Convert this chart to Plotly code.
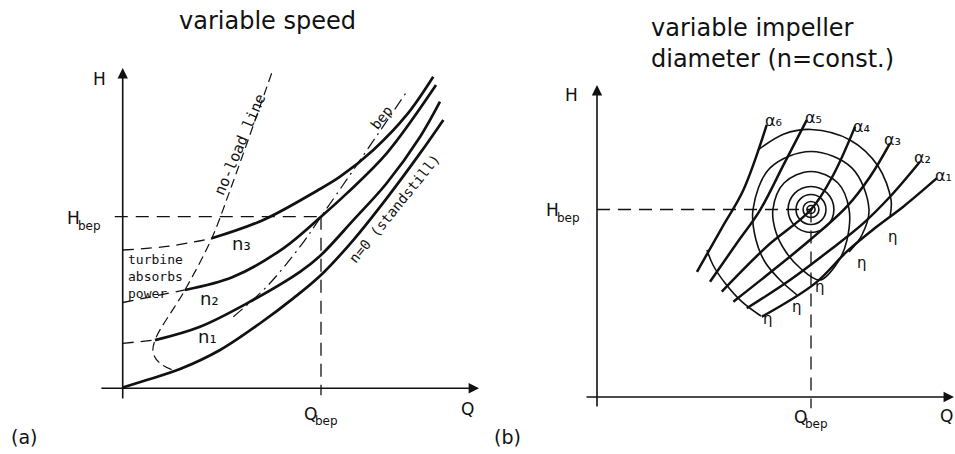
import plotly.graph_objects as go

# ---------------- panel (a): variable speed  (Q/Qbep, H/Hbep) ----------------
n0_Q = [0.0, 0.121, 0.289, 0.491, 0.693, 0.860, 1.0, 1.163, 1.331, 1.499, 1.617]
n0_H = [0.005, 0.048, 0.112, 0.223, 0.379, 0.524, 0.660, 0.864, 1.107, 1.369, 1.564]
n1_Q = [0.163, 0.390, 0.642, 0.894, 0.995, 1.163, 1.331, 1.500, 1.600]
n1_H = [0.281, 0.359, 0.505, 0.679, 0.771, 0.980, 1.195, 1.466, 1.670]
n2_Q = [0.314, 0.558, 0.810, 1.0, 1.130, 1.331, 1.580]
n2_H = [0.573, 0.650, 0.816, 1.0, 1.136, 1.369, 1.767]
n3_Q = [0.449, 0.709, 0.978, 1.096, 1.264, 1.432, 1.566]
n3_H = [0.874, 0.981, 1.150, 1.233, 1.389, 1.593, 1.816]
speed_labels = ["n₁", "n₂", "n₃"]

# dashed continuations of the speed curves back to the H axis
n3_ext_Q = [0.0, 0.238, 0.449]
n3_ext_H = [0.806, 0.829, 0.874]
n2_ext_Q = [0.0, 0.314]
n2_ext_H = [0.500, 0.573]
n1_ext_Q = [0.0, 0.163]
n1_ext_H = [0.262, 0.281]

# no-load line and its closing loop onto the standstill curve
noload_Q = [0.751, 0.541, 0.449, 0.314, 0.163, 0.154, 0.188, 0.255, 0.300]
noload_H = [1.836, 1.153, 0.874, 0.573, 0.281, 0.204, 0.146, 0.107, 0.113]

# best-efficiency-point locus
bep_Q = [0.558, 0.726, 0.894, 1.0, 1.163, 1.432]
bep_H = [0.417, 0.592, 0.825, 1.0, 1.272, 1.728]

# ---------------- panel (b): variable impeller diameter ----------------
alpha_names = ["α₁", "α₂", "α₃", "α₄", "α₅", "α₆"]
alpha_Q = [
    [0.770, 1.019, 1.167, 1.307, 1.431, 1.587],
    [0.700, 0.902, 1.089, 1.244, 1.369, 1.509],
    [0.637, 0.824, 0.995, 1.167, 1.276, 1.369],
    [0.583, 0.793, 1.0, 1.104, 1.206],
    [0.528, 0.653, 0.762, 0.871, 0.980],
    [0.467, 0.583, 0.684, 0.793],
]
alpha_H = [
    [0.428, 0.606, 0.775, 0.908, 1.015, 1.166],
    [0.473, 0.624, 0.784, 0.926, 1.068, 1.255],
    [0.508, 0.677, 0.837, 1.015, 1.175, 1.353],
    [0.562, 0.802, 1.0, 1.184, 1.442],
    [0.615, 0.820, 0.997, 1.237, 1.477],
    [0.667, 0.901, 1.104, 1.451],
]
alpha_label_Q = [1.617, 1.523, 1.383, 1.234, 1.014, 0.827]
alpha_label_H = [1.179, 1.275, 1.371, 1.445, 1.493, 1.477]

# efficiency contours: inner rings around the bep (half-width in Q, half-height in H)
ring_dQ = [0.019, 0.037, 0.070, 0.107]
ring_dH = [0.021, 0.043, 0.080, 0.123]

eta3_Q = [1.042, 1.126, 1.168, 1.178, 1.126, 1.0, 0.874, 0.822, 0.836, 0.883, 0.949, 1.042]
eta3_H = [0.624, 0.720, 0.837, 1.0, 1.141, 1.203, 1.141, 1.0, 0.880, 0.773, 0.688, 0.624]
eta2_Q = [0.935, 0.855, 0.785, 0.743, 0.729, 0.808, 1.0, 1.192, 1.271, 1.238, 1.178]
eta2_H = [0.544, 0.624, 0.720, 0.837, 1.0, 1.221, 1.309, 1.221, 1.0, 0.864, 0.773]
eta1a_Q = [0.752, 0.874, 1.0, 1.182, 1.313, 1.374, 1.369]
eta1a_H = [1.317, 1.403, 1.427, 1.371, 1.232, 1.051, 0.960]
eta1b_Q = [0.514, 0.542, 0.598, 0.678, 0.766]
eta1b_H = [0.784, 0.704, 0.608, 0.507, 0.432]

eta_label_Q = [1.383, 1.238, 1.042, 0.935, 0.799]
eta_label_H = [0.853, 0.715, 0.587, 0.480, 0.416]

INK = "#111111"
SANS = "DejaVu Sans"
LETTER = "DejaVu Sans Mono"

fig = go.Figure()


def line(xs, ys, panel, width=2.6, dash="solid", shape="spline"):
    xa, ya = ("x", "y") if panel == "a" else ("x2", "y2")
    fig.add_trace(go.Scatter(
        x=xs, y=ys, mode="lines", xaxis=xa, yaxis=ya,
        line=dict(color=INK, width=width, dash=dash, shape=shape, smoothing=1.0),
        hoverinfo="skip", showlegend=False))


# ---- panel (a) ----
for q, h in [(n0_Q, n0_H), (n1_Q, n1_H), (n2_Q, n2_H), (n3_Q, n3_H)]:
    line(q, h, "a", width=2.7)
for q, h in [(n3_ext_Q, n3_ext_H), (n2_ext_Q, n2_ext_H), (n1_ext_Q, n1_ext_H)]:
    line(q, h, "a", width=1.3, dash="11px,7px")
line(noload_Q, noload_H, "a", width=1.2, dash="9px,5px")
line(bep_Q, bep_H, "a", width=1.2, dash="12px,5px,2px,5px")
line([-0.04, 1.0], [1.0, 1.0], "a", width=1.3, dash="13px,8px", shape="linear")
line([1.0, 1.0], [1.0, -0.04], "a", width=1.3, dash="13px,8px", shape="linear")

# ---- panel (b) ----
for q, h in zip(alpha_Q, alpha_H):
    line(q, h, "b", width=2.5)
for q, h in [(eta3_Q, eta3_H), (eta2_Q, eta2_H), (eta1a_Q, eta1a_H), (eta1b_Q, eta1b_H)]:
    line(q, h, "b", width=1.6)
line([0.0, 1.0], [1.0, 1.0], "b", width=1.3, dash="13px,8px", shape="linear")
line([1.0, 1.0], [1.0, -0.06], "b", width=1.3, dash="13px,8px", shape="linear")
fig.add_trace(go.Scatter(x=[1.0], y=[1.0], mode="markers", xaxis="x2", yaxis="y2",
                         marker=dict(color=INK, size=3), hoverinfo="skip", showlegend=False))
for dq, dh in zip(ring_dQ, ring_dH):
    fig.add_shape(type="circle", xref="x2", yref="y2",
                  x0=1 - dq, x1=1 + dq, y0=1 - dh, y1=1 + dh,
                  line=dict(color=INK, width=1.6))

ann = []


def text(x, y, s, panel=None, size=17, font=SANS, xanchor="center", yanchor="middle",
         angle=0, align="center"):
    if panel is None:
        xr, yr = "paper", "paper"
    else:
        xr, yr = ("x", "y") if panel == "a" else ("x2", "y2")
    ann.append(dict(x=x, y=y, xref=xr, yref=yr, text=s, showarrow=False,
                    xanchor=xanchor, yanchor=yanchor, textangle=angle, align=align,
                    borderpad=0, font=dict(family=font, size=size, color=INK)))


def arrow(x0, y0, x1, y1, panel):
    xr, yr = ("x", "y") if panel == "a" else ("x2", "y2")
    ann.append(dict(x=x1, y=y1, ax=x0, ay=y0, xref=xr, yref=yr, axref=xr, ayref=yr,
                    text="", showarrow=True, arrowhead=2, arrowsize=1.3,
                    arrowwidth=1.6, arrowcolor=INK))


# axes with arrows
arrow(0, -0.068, 0, 1.866, "a")
arrow(-0.115, 0, 1.797, 0, "a")
arrow(0, -0.059, 0, 1.664, "b")
arrow(-0.056, 0, 1.668, 0, "b")

# titles and panel tags
text(267.5 / 955, 1 - 21 / 454, "variable speed", size=24)
text(650 / 955, 1 - 44 / 454, "variable impeller<br>diameter (n=const.)", size=24,
     xanchor="left", align="left")
text(24 / 955, 1 - 437 / 454, "(a)", size=19)
text(507 / 955, 1 - 437 / 454, "(b)", size=19)

# panel (a) labels
text(-0.117, 1.805, "H", "a")
text(-0.210, 0.992, "H", "a", xanchor="right")
text(-0.228, 0.946, "bep", "a", size=12, xanchor="left")
text(0.985, -0.150, "Q", "a", xanchor="right")
text(0.967, -0.190, "bep", "a", size=12, xanchor="left")
text(1.741, -0.118, "Q", "a")
for q, h, s in zip([0.430, 0.440, 0.597], [0.299, 0.526, 0.841], speed_labels):
    text(q, h, s, "a", size=18)
text(0.02, 0.654, "turbine<br>absorbs<br>power", "a", size=13, font=LETTER,
     xanchor="left", align="left")
text(0.590, 1.418, "no-load line", "a", size=15, font=LETTER, angle=-67)
text(1.373, 1.049, "n=0 (standstill)", "a", size=14, font=LETTER, angle=-51)
text(1.303, 1.575, "bep", "a", size=14, font=LETTER, angle=-52)

# panel (b) labels
text(-0.118, 1.611, "H", "b")
text(-0.173, 0.997, "H", "b", xanchor="right")
text(-0.190, 0.955, "bep", "b", size=12, xanchor="left")
text(0.986, -0.105, "Q", "b", xanchor="right")
text(0.969, -0.144, "bep", "b", size=12, xanchor="left")
text(1.668, -0.101, "Q", "b", xanchor="right")
for q, h, s in zip(alpha_label_Q, alpha_label_H, alpha_names):
    text(q, h, s, "b", size=16)
for q, h in zip(eta_label_Q, eta_label_H):
    text(q, h, "η", "b", size=15)

fig.update_layout(
    width=955, height=454, margin=dict(l=0, r=0, t=0, b=0),
    paper_bgcolor="white", plot_bgcolor="rgba(0,0,0,0)", showlegend=False,
    xaxis=dict(domain=[0, 1], range=[-0.6188, 4.1972], visible=False, fixedrange=True),
    yaxis=dict(domain=[0, 1], range=[-0.3829, 2.2628], visible=False, fixedrange=True),
    xaxis2=dict(domain=[0, 1], range=[-2.7897, 1.6729], visible=False, anchor="y2", fixedrange=True),
    yaxis2=dict(domain=[0, 1], range=[-0.304, 2.1173], visible=False, anchor="x2", fixedrange=True),
    annotations=ann,
)

fig.write_html("out.html")
